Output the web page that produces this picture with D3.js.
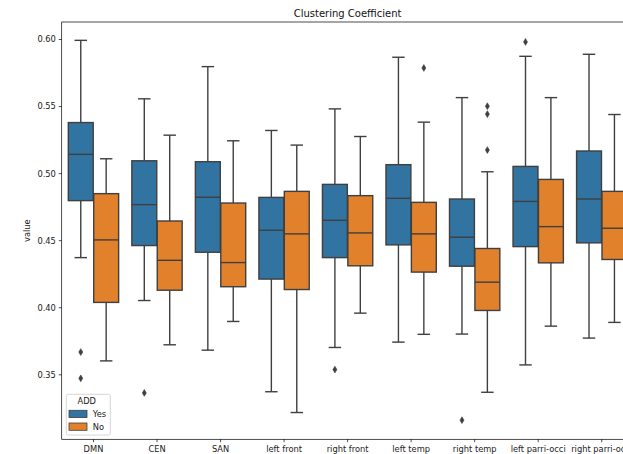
<!DOCTYPE html>
<html>
<head>
<meta charset="utf-8">
<script src="https://cdn.jsdelivr.net/npm/d3@7"></script>
<style>
  html, body { margin: 0; padding: 0; background: #fff; }
  svg { display: block; font-family: "DejaVu Sans", sans-serif; }
</style>
</head>
<body>
<svg id="chart" width="623" height="454"></svg>
<script>
const categories = ["DMN","CEN","SAN","left front","right front","left temp","right temp","left parri-occi","right parri-occi"];
const hues = ["Yes","No"];
const yTicks = [0.35,0.40,0.45,0.50,0.55,0.60];

const yesLow  = [0.437, 0.405, 0.368, 0.337, 0.370, 0.374, 0.380, 0.357, 0.377];
const yesQ1   = [0.4795,0.446, 0.441, 0.421, 0.437, 0.4465,0.4306,0.4452,0.448];
const yesMed  = [0.514, 0.4765,0.482, 0.4574,0.4648,0.4812,0.4522,0.4789,0.4807];
const yesQ3   = [0.5377,0.5092,0.5085,0.4819,0.4916,0.5063,0.4807,0.505, 0.5165];
const yesHigh = [0.599, 0.5554,0.5794,0.5318,0.5479,0.5864,0.5563,0.5871,0.5886];
const yesOutliers = [[0.3666,0.347],[0.3361],[],[],[0.3535],[],[0.3158],[0.5978],[]];

const noLow  = [0.360, 0.372, 0.3894,0.3215,0.3956,0.3798,0.3366,0.3859,0.3887];
const noQ1   = [0.4036,0.4127,0.4153,0.4132,0.4309,0.4262,0.3976,0.4331,0.4356];
const noMed  = [0.4502,0.435, 0.4333,0.4547,0.4554,0.4547,0.4187,0.4601,0.4589];
const noQ3   = [0.4847,0.4643,0.4777,0.4864,0.4832,0.4782,0.4438,0.4953,0.4864];
const noHigh = [0.5107,0.5283,0.5241,0.5209,0.5273,0.538, 0.501, 0.5563,0.5437];
const noOutliers = [[],[],[],[],[],[0.5784],[0.5499,0.544,0.5172],[],[]];

const colors = {Yes: "#3274a1", No: "#e1812c"};
const lineColor = "#3f3f3f";
const lw = 1.4;

// build records
const stats = [];
categories.forEach((c, i) => {
  stats.push({cat: c, hue: "Yes", low: yesLow[i], q1: yesQ1[i], med: yesMed[i], q3: yesQ3[i], high: yesHigh[i], out: yesOutliers[i]});
  stats.push({cat: c, hue: "No", low: noLow[i], q1: noQ1[i], med: noMed[i], q3: noQ3[i], high: noHigh[i], out: noOutliers[i]});
});

const L = 61.7, R = 633.5, T = 22, B = 439.3;
const svg = d3.select("#chart");

const x = d3.scaleBand().domain(categories).range([L, R]).paddingInner(0).paddingOuter(0);
const bw = x.bandwidth();
const xh = d3.scaleBand().domain(hues).range([0.1 * bw, 0.9 * bw]);
const boxW = xh.bandwidth() * 0.98;
const y = d3.scaleLinear().domain([0.6 - (B - 39) / 1341.2, 0.6 + (39 - T) / 1341.2]).range([B, T]);

const fs = 8.3;

// boxes
const g = svg.append("g");
stats.forEach(s => {
  const cx = x(s.cat) + xh(s.hue) + xh.bandwidth() / 2;
  const grp = g.append("g");
  // whiskers
  grp.append("line").attr("x1", cx).attr("x2", cx).attr("y1", y(s.q3)).attr("y2", y(s.high))
    .attr("stroke", lineColor).attr("stroke-width", lw);
  grp.append("line").attr("x1", cx).attr("x2", cx).attr("y1", y(s.q1)).attr("y2", y(s.low))
    .attr("stroke", lineColor).attr("stroke-width", lw);
  // caps
  [s.high, s.low].forEach(v => {
    grp.append("line").attr("x1", cx - boxW / 4).attr("x2", cx + boxW / 4).attr("y1", y(v)).attr("y2", y(v))
      .attr("stroke", lineColor).attr("stroke-width", lw);
  });
  // box
  grp.append("rect").attr("x", cx - boxW / 2).attr("width", boxW)
    .attr("y", y(s.q3)).attr("height", y(s.q1) - y(s.q3))
    .attr("fill", colors[s.hue]).attr("stroke", lineColor).attr("stroke-width", lw);
  // median
  grp.append("line").attr("x1", cx - boxW / 2).attr("x2", cx + boxW / 2).attr("y1", y(s.med)).attr("y2", y(s.med))
    .attr("stroke", lineColor).attr("stroke-width", lw);
  // outliers
  s.out.forEach(v => {
    const py = y(v), hw = 2.0, hh = 3.4;
    grp.append("path")
      .attr("d", `M${cx},${py - hh}L${cx + hw},${py}L${cx},${py + hh}L${cx - hw},${py}Z`)
      .attr("fill", lineColor).attr("stroke", lineColor).attr("stroke-width", 0.6);
  });
});

// axes
const tickLen = 2.9;
const xAxis = d3.axisBottom(x).tickSize(tickLen).tickPadding(2.9);
const yAxis = d3.axisLeft(y).tickValues(yTicks).tickFormat(d3.format(".2f")).tickSize(tickLen).tickPadding(2.9);

const gx = svg.append("g").attr("transform", `translate(0,${B})`).call(xAxis);
gx.select(".domain").remove();
gx.selectAll(".tick line").attr("stroke", "#000").attr("stroke-width", 0.7);
gx.selectAll(".tick text").attr("font-size", fs).attr("fill", "#222").attr("font-family", "DejaVu Sans").attr("dy", null).attr("y", 12.7);

const gy = svg.append("g").attr("transform", `translate(${L},0)`).call(yAxis);
gy.select(".domain").remove();
gy.selectAll(".tick line").attr("stroke", "#000").attr("stroke-width", 0.7);
gy.selectAll(".tick text").attr("font-size", fs).attr("fill", "#222").attr("font-family", "DejaVu Sans").attr("dy", "0.35em");

// spines
svg.append("rect").attr("x", L).attr("y", T).attr("width", R - L).attr("height", B - T)
  .attr("fill", "none").attr("stroke", "#000").attr("stroke-width", 0.7);

// title & label
svg.append("text").attr("x", (L + R) / 2).attr("y", 17).attr("text-anchor", "middle")
  .attr("font-size", 10).attr("fill", "#111").text("Clustering Coefficient");
svg.append("text").attr("transform", `translate(30,${(T + B) / 2}) rotate(-90)`).attr("text-anchor", "middle")
  .attr("font-size", fs).attr("fill", "#222").text("value");

// legend
const lg = svg.append("g");
lg.append("rect").attr("x", 66.3).attr("y", 394.3).attr("width", 44).attr("height", 40.7).attr("rx", 2)
  .attr("fill", "#fff").attr("fill-opacity", 0.8).attr("stroke", "#cccccc").attr("stroke-width", 0.8);
lg.append("text").attr("x", 86.7).attr("y", 401).attr("dy", "0.35em").attr("text-anchor", "middle")
  .attr("font-size", fs).attr("fill", "#222").text("ADD");
hues.forEach((h, i) => {
  const yy = 410.3 + i * 12.7;
  lg.append("rect").attr("x", 69).attr("y", yy).attr("width", 18).attr("height", 7.3)
    .attr("fill", colors[h]).attr("stroke", lineColor).attr("stroke-width", 0.8);
  lg.append("text").attr("x", 92.7).attr("y", yy + 3.65).attr("dy", "0.35em")
    .attr("font-size", fs).attr("fill", "#222").text(h);
});
</script>
</body>
</html>
